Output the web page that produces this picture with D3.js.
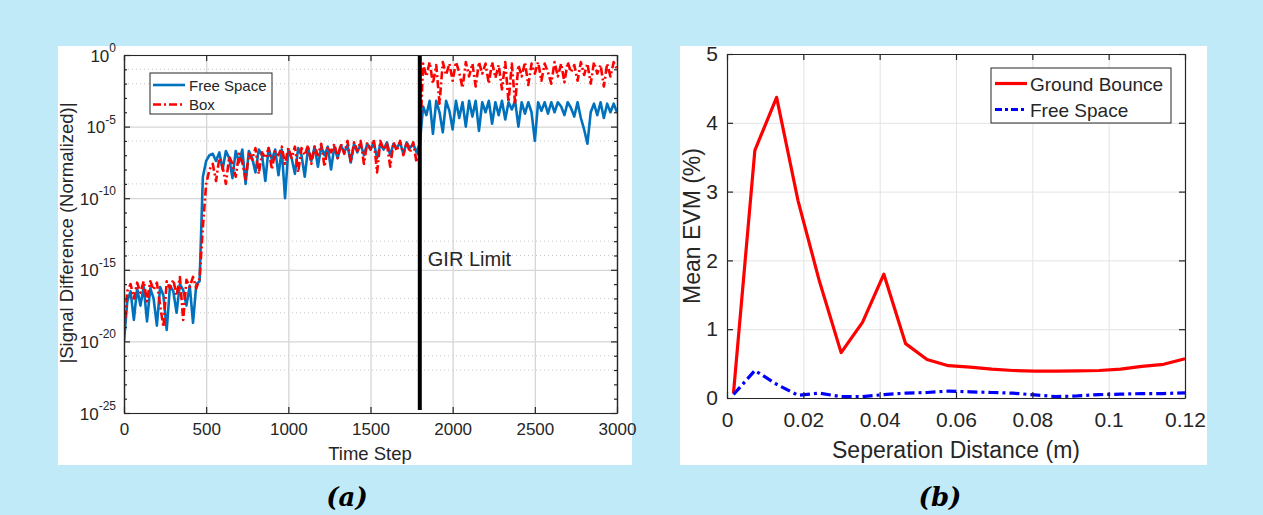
<!DOCTYPE html>
<html>
<head>
<meta charset="UTF-8">
<title>Signal difference and mean EVM</title>
<style>
    html, body { margin: 0; padding: 0; background: #c1eaf9; }
    svg { display: block; font-family: "Liberation Sans", Arial, sans-serif; }
</style>
</head>
<body>
<svg width="1263" height="515"></svg>
<script src="https://d3js.org/d3.v7.min.js"></script>
<script>
// ---------- panel (a): log10 |signal difference|, one reading every 20 time steps
var timeStep = d3.range(0, 3001, 20);
var freeSpaceExp = [
  -20, -17.2, -16.5, -18.5, -16.3, -17.5, -16.2, -18.6, -16.3, -17.0,
  -18.9, -16.2, -16.8, -19.2, -16.1, -16.5, -18.0, -16.0, -16.4, -17.5,
  -16.1, -18.7, -16.0, -15.8, -8.5, -7.4, -7.0, -6.9, -7.4, -6.8,
  -8.0, -6.7, -7.2, -8.6, -6.7, -7.5, -6.6, -9.0, -6.7, -7.2,
  -8.2, -6.6, -7.0, -8.8, -6.5, -7.3, -6.6, -8.4, -6.6, -10.0,
  -6.6, -7.2, -8.3, -6.5, -7.0, -8.5, -6.5, -7.4, -6.4, -7.8,
  -6.4, -7.0, -6.4, -8.0, -6.4, -7.2, -6.3, -6.8, -6.3, -7.5,
  -6.2, -6.8, -6.2, -7.0, -6.2, -6.6, -6.1, -7.2, -6.2, -6.6,
  -6.1, -7.0, -6.2, -6.5, -6.1, -6.9, -6.1, -6.5, -6.2, -6.8,
  -6.2, -3.6, -4.2, -3.2, -5.5, -3.2, -4.0, -5.4, -3.2, -3.9,
  -5.2, -3.2, -4.4, -3.3, -5.0, -3.2, -4.3, -3.2, -5.3, -3.3,
  -4.0, -3.2, -4.8, -3.3, -4.2, -3.2, -4.5, -3.3, -3.8, -3.2,
  -5.0, -3.3, -4.1, -3.3, -4.0, -6.0, -3.3, -3.9, -3.3, -4.1,
  -3.3, -4.0, -3.3, -3.6, -4.2, -3.3, -3.7, -4.3, -3.3, -4.4,
  -5.2, -6.2, -4.0, -3.4, -4.2, -3.3, -4.4, -3.4, -4.0, -3.4,
  -4.0
];
var boxExp = [
  -19.5, -16.5, -16.0, -17.0, -15.9, -16.6, -15.8, -17.2, -15.8, -16.4,
  -15.9, -17.5, -19.0, -15.8, -16.3, -15.7, -16.8, -15.5, -18.5, -15.7,
  -16.2, -15.5, -16.3, -15.6, -12.0, -9.0, -8.0, -7.6, -8.8, -7.2,
  -7.8, -9.0, -7.1, -7.6, -8.5, -6.9, -7.5, -8.7, -6.9, -7.3,
  -6.5, -8.3, -6.8, -7.2, -6.5, -8.0, -6.7, -7.0, -6.4, -7.6,
  -6.5, -7.2, -6.4, -8.2, -6.5, -7.0, -6.3, -7.6, -6.4, -7.0,
  -6.2, -7.8, -6.4, -6.8, -6.2, -7.2, -6.2, -6.9, -6.0, -7.5,
  -6.1, -6.7, -6.0, -7.6, -6.1, -6.6, -5.9, -8.2, -6.0, -6.6,
  -6.2, -7.8, -6.1, -6.7, -6.0, -7.0, -6.1, -6.8, -6.1, -7.5,
  -6.4, -0.6, -1.5, -0.5, -2.0, -0.7, -3.4, -0.5, -1.4, -0.6,
  -1.8, -0.5, -1.2, -2.3, -0.5, -1.5, -0.6, -2.2, -0.5, -1.3,
  -0.6, -2.0, -0.5, -1.6, -0.7, -2.4, -0.5, -3.3, -0.6, -3.4,
  -0.7, -1.5, -0.5, -2.1, -0.6, -1.3, -0.5, -1.8, -0.6, -1.2,
  -2.0, -0.5, -1.5, -0.6, -1.9, -0.5, -1.2, -0.7, -1.8, -0.5,
  -1.4, -0.6, -2.0, -0.5, -1.3, -0.7, -2.2, -0.6, -1.5, -0.5,
  -1.0
];
var girLimit = 1800;
var xTicksA = [0, 500, 1000, 1500, 2000, 2500, 3000];
var yMajorExp = [0, -5, -10, -15, -20, -25];
var yMinorExp = d3.range(-24, 0).filter(function (e) { return e % 5 !== 0; });
var minorGridExp = [-1, -2, -6, -9, -13, -14, -17, -18, -21, -22];

// ---------- panel (b): mean EVM vs separation distance
var sepDist = [0.0017, 0.0073, 0.0130, 0.0186, 0.0242, 0.0299, 0.0355, 0.0411, 0.0468, 0.0524, 0.0580,
               0.0637, 0.0693, 0.0749, 0.0806, 0.0862, 0.0918, 0.0975, 0.1031, 0.1087, 0.1144, 0.1200];
var groundBounce = [0.07, 3.6, 4.37, 2.87, 1.7, 0.66, 1.1, 1.8, 0.79, 0.56, 0.47,
                    0.45, 0.42, 0.40, 0.39, 0.39, 0.395, 0.40, 0.42, 0.46, 0.49, 0.57];
var freeSpaceEvm = [0.05, 0.40, 0.20, 0.04, 0.07, 0.02, 0.02, 0.05, 0.07, 0.08, 0.10,
                    0.09, 0.08, 0.07, 0.045, 0.02, 0.03, 0.05, 0.055, 0.065, 0.065, 0.075];
var xTicksB = [0, 0.02, 0.04, 0.06, 0.08, 0.1, 0.12];
var yTicksB = [0, 1, 2, 3, 4, 5];

var ink = "#262626";
var gridCol = "#d6d6d6";
var svg = d3.select("svg");

// white panels
svg.append("rect").attr("x", 58).attr("y", 46).attr("width", 574).attr("height", 419).attr("fill", "#fff");
svg.append("rect").attr("x", 680).attr("y", 46).attr("width", 527).attr("height", 419).attr("fill", "#fff");

// ================= panel (a)
var xA = d3.scaleLinear().domain([0, 3000]).range([124, 617]);
var yA = d3.scaleLinear().domain([-25, 0]).range([413, 55]);
var gA = svg.append("g");

// grids
gA.append("g").selectAll("line").data(minorGridExp).join("line")
    .attr("x1", 124).attr("x2", 617).attr("y1", yA).attr("y2", yA)
    .attr("stroke", "#c8c8c8").attr("stroke-width", 1).attr("stroke-dasharray", "1,3");
gA.append("g").attr("transform", "translate(0,413)")
    .call(d3.axisBottom(xA).tickValues(xTicksA).tickSize(-358).tickFormat(""))
    .call(function (g) { g.select(".domain").remove(); g.selectAll("line").attr("stroke", gridCol).attr("stroke-width", 1.3); });
gA.append("g").attr("transform", "translate(124,0)")
    .call(d3.axisLeft(yA).tickValues(yMajorExp).tickSize(-493).tickFormat(""))
    .call(function (g) { g.select(".domain").remove(); g.selectAll("line").attr("stroke", gridCol).attr("stroke-width", 1.3); });

// data lines
gA.append("clipPath").attr("id", "clipA").append("rect")
    .attr("x", 124).attr("y", 55).attr("width", 493).attr("height", 358);
var lineA = d3.line().x(function (d, i) { return xA(timeStep[i]); }).y(function (d) { return yA(d); });
gA.append("path").datum(freeSpaceExp).attr("clip-path", "url(#clipA)")
    .attr("d", lineA).attr("fill", "none").attr("stroke", "#0072bd").attr("stroke-width", 2.6)
    .attr("stroke-linejoin", "round");
gA.append("path").datum(boxExp).attr("clip-path", "url(#clipA)")
    .attr("d", lineA).attr("fill", "none").attr("stroke", "#ff0000").attr("stroke-width", 2.6)
    .attr("stroke-dasharray", "8,3,2,3").attr("stroke-linejoin", "round");

// GIR limit marker
gA.append("line").attr("x1", xA(girLimit)).attr("x2", xA(girLimit))
    .attr("y1", 55).attr("y2", 410).attr("stroke", "#000").attr("stroke-width", 4);
gA.append("text").attr("x", xA(girLimit) + 8).attr("y", 266)
    .attr("font-size", 20).attr("fill", ink).text("GIR Limit");

// axes (ticks point inward)
function styleAxis(g) {
    g.select(".domain").attr("stroke", ink).attr("stroke-width", 1.2);
    g.selectAll(".tick line").attr("stroke", ink).attr("stroke-width", 1.2);
    g.selectAll("text").attr("fill", ink).attr("font-family", "Liberation Sans, Arial, sans-serif");
}
gA.append("g").attr("transform", "translate(0,413)")
    .call(d3.axisBottom(xA).tickValues(xTicksA).tickSize(-6).tickSizeOuter(0).tickPadding(10).tickFormat(d3.format("d")))
    .call(styleAxis).selectAll("text").attr("font-size", 17);
gA.append("g").attr("transform", "translate(0,55)")
    .call(d3.axisTop(xA).tickValues(xTicksA).tickSize(-6).tickSizeOuter(0).tickFormat(""))
    .call(styleAxis);
var axYA = gA.append("g").attr("transform", "translate(124,0)")
    .call(d3.axisLeft(yA).tickValues(yMajorExp).tickSize(-6).tickSizeOuter(0).tickPadding(8).tickFormat(""))
    .call(styleAxis);
axYA.selectAll(".tick text").attr("dy", "0.6em").each(function (d) {
    var t = d3.select(this);
    t.append("tspan").attr("font-size", 17).text("10");
    t.append("tspan").attr("font-size", 12).attr("dy", "-0.8em").text(d);
});
gA.append("g").attr("transform", "translate(124,0)")
    .call(d3.axisLeft(yA).tickValues(yMinorExp).tickSize(-3).tickSizeOuter(0).tickFormat(""))
    .call(styleAxis);
gA.append("g").attr("transform", "translate(617,0)")
    .call(d3.axisRight(yA).tickValues(yMajorExp).tickSize(-6).tickSizeOuter(0).tickFormat(""))
    .call(styleAxis);
gA.append("g").attr("transform", "translate(617,0)")
    .call(d3.axisRight(yA).tickValues(yMinorExp).tickSize(-3).tickSizeOuter(0).tickFormat(""))
    .call(styleAxis);

gA.append("text").attr("x", 370).attr("y", 460).attr("text-anchor", "middle")
    .attr("font-size", 18.5).attr("fill", ink).text("Time Step");
gA.append("text").attr("transform", "translate(73,233) rotate(-90)").attr("text-anchor", "middle")
    .attr("font-size", 18.5).attr("fill", ink).text("|Signal Difference (Normalized)|");

// legend (a)
var legA = gA.append("g");
legA.append("rect").attr("x", 150).attr("y", 73).attr("width", 122).attr("height", 41)
    .attr("fill", "#fff").attr("stroke", ink).attr("stroke-width", 1);
var legItemsA = [
    { name: "Free Space", color: "#0072bd", dash: null },
    { name: "Box", color: "#ff0000", dash: "8,3,2,3" }
];
legItemsA.forEach(function (d, i) {
    var yy = 85 + i * 19.5;
    legA.append("line").attr("x1", 153).attr("x2", 185).attr("y1", yy).attr("y2", yy)
        .attr("stroke", d.color).attr("stroke-width", 2.6).attr("stroke-dasharray", d.dash);
    legA.append("text").attr("x", 189).attr("y", yy + 5.5).attr("font-size", 15).attr("fill", ink).text(d.name);
});

// ================= panel (b)
var xB = d3.scaleLinear().domain([0, 0.12]).range([727, 1185]);
var yB = d3.scaleLinear().domain([0, 5]).range([398, 54]);
var gB = svg.append("g");

gB.append("g").attr("transform", "translate(0,398)")
    .call(d3.axisBottom(xB).tickValues(xTicksB).tickSize(-344).tickFormat(""))
    .call(function (g) { g.select(".domain").remove(); g.selectAll("line").attr("stroke", "#e3e3e3").attr("stroke-width", 1); });
gB.append("g").attr("transform", "translate(727,0)")
    .call(d3.axisLeft(yB).tickValues(yTicksB).tickSize(-458).tickFormat(""))
    .call(function (g) { g.select(".domain").remove(); g.selectAll("line").attr("stroke", "#e3e3e3").attr("stroke-width", 1); });

var lineB = d3.line().x(function (d, i) { return xB(sepDist[i]); }).y(function (d) { return yB(d); });
gB.append("path").datum(groundBounce).attr("d", lineB).attr("fill", "none")
    .attr("stroke", "#ff0000").attr("stroke-width", 3.2).attr("stroke-linejoin", "round");
gB.append("path").datum(freeSpaceEvm).attr("d", lineB).attr("fill", "none")
    .attr("stroke", "#0000ff").attr("stroke-width", 3.2).attr("stroke-dasharray", "10,4,3,4");

gB.append("g").attr("transform", "translate(0,398)")
    .call(d3.axisBottom(xB).tickValues(xTicksB).tickSize(-6).tickSizeOuter(0).tickPadding(14).tickFormat(d3.format("~g")))
    .call(styleAxis).selectAll("text").attr("font-size", 21);
gB.append("g").attr("transform", "translate(0,54)")
    .call(d3.axisTop(xB).tickValues(xTicksB).tickSize(-6).tickSizeOuter(0).tickFormat(""))
    .call(styleAxis);
gB.append("g").attr("transform", "translate(727,0)")
    .call(d3.axisLeft(yB).tickValues(yTicksB).tickSize(-6).tickSizeOuter(0).tickPadding(9).tickFormat(d3.format("d")))
    .call(styleAxis).selectAll("text").attr("font-size", 21);
gB.append("g").attr("transform", "translate(1185,0)")
    .call(d3.axisRight(yB).tickValues(yTicksB).tickSize(-6).tickSizeOuter(0).tickFormat(""))
    .call(styleAxis);

gB.append("text").attr("x", 956).attr("y", 458).attr("text-anchor", "middle")
    .attr("font-size", 23).attr("fill", ink).text("Seperation Distance (m)");
gB.append("text").attr("transform", "translate(700,226) rotate(-90)").attr("text-anchor", "middle")
    .attr("font-size", 23).attr("fill", ink).text("Mean EVM (%)");

// legend (b)
var legB = gB.append("g");
legB.append("rect").attr("x", 991).attr("y", 68).attr("width", 180).attr("height", 55)
    .attr("fill", "#fff").attr("stroke", ink).attr("stroke-width", 1);
var legItemsB = [
    { name: "Ground Bounce", color: "#ff0000", dash: null },
    { name: "Free Space", color: "#0000ff", dash: "7,3,3,3" }
];
legItemsB.forEach(function (d, i) {
    var yy = 83.5 + i * 26;
    legB.append("line").attr("x1", 995).attr("x2", 1027).attr("y1", yy).attr("y2", yy)
        .attr("stroke", d.color).attr("stroke-width", 3.2).attr("stroke-dasharray", d.dash);
    legB.append("text").attr("x", 1030).attr("y", yy + 7).attr("font-size", 19).attr("fill", ink).text(d.name);
});

// captions
svg.append("text").attr("x", 347).attr("y", 506).attr("text-anchor", "middle")
    .attr("font-family", "DejaVu Serif, serif").attr("font-weight", "bold").attr("font-style", "italic")
    .attr("font-size", 26).attr("fill", "#000").text("(a)");
svg.append("text").attr("x", 940).attr("y", 506).attr("text-anchor", "middle")
    .attr("font-family", "DejaVu Serif, serif").attr("font-weight", "bold").attr("font-style", "italic")
    .attr("font-size", 26).attr("fill", "#000").text("(b)");
</script>
</body>
</html>
